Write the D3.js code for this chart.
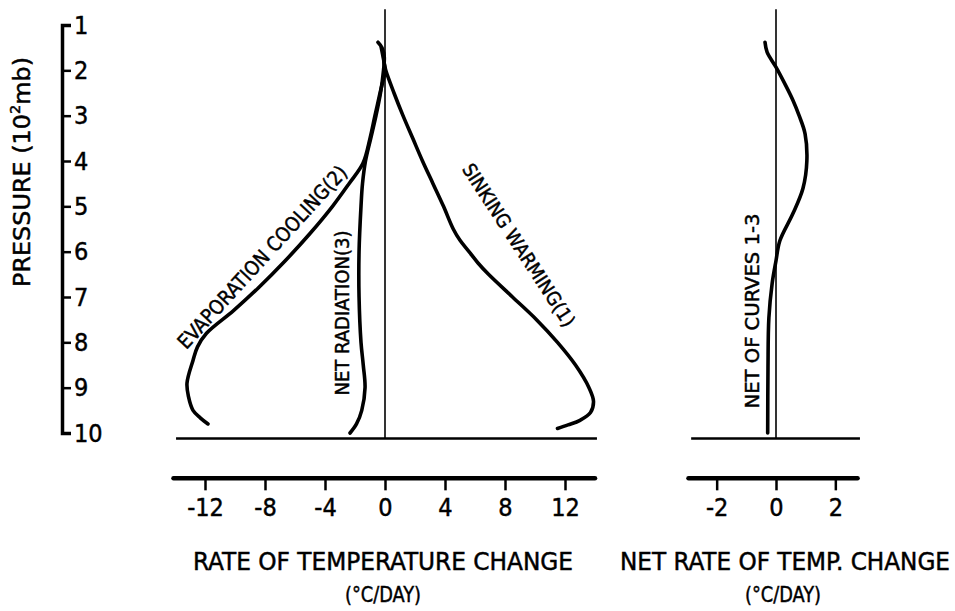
<!DOCTYPE html>
<html>
<head>
<meta charset="utf-8">
<script src="https://cdn.jsdelivr.net/npm/d3@7/dist/d3.min.js"></script>
<style>
  body { margin: 0; background: #fff; }
  svg text { font-family: "Liberation Sans Narrow", "DejaVu Sans Condensed", "DejaVu Sans", sans-serif; fill: #000; stroke: #000; stroke-width: 0.45px; }
</style>
</head>
<body>
<div id="chart"></div>
<script>
var width = 955,
    height = 611,
    fontStack = '"Liberation Sans Narrow", "DejaVu Sans Condensed", "DejaVu Sans", sans-serif'
;

// Pressure levels (10^2 mb) and rates (degC/day)
var pSinking = [1.6, 1.85, 2.0, 2.5, 3.0, 3.5, 4.0, 4.5, 5.0, 5.5, 5.75, 6.0, 6.25, 6.5, 7.0, 7.5, 8.0, 8.5, 9.0, 9.3, 9.55, 9.72, 9.82, 9.9];
var sinkingWarming = [-0.1, -0.05, 0.05, 0.6, 1.2, 1.85, 2.5, 3.2, 3.9, 4.55, 5.0, 5.6, 6.2, 6.9, 8.5, 10.1, 11.5, 12.7, 13.6, 13.9, 13.7, 13.0, 12.2, 11.5];

var pEvap = [1.5, 1.85, 2.0, 2.5, 3.0, 3.5, 4.05, 4.5, 5.0, 5.6, 6.2, 6.8, 7.3, 7.8, 8.1, 8.4, 8.9, 9.2, 9.5, 9.67, 9.8];
var evapCooling = [-0.25, -0.05, 0, -0.33, -0.67, -1.0, -1.47, -2.4, -3.5, -5.0, -6.65, -8.45, -10.1, -11.9, -12.5, -12.8, -13.2, -13.1, -12.8, -12.3, -11.8];

var pRad = [1.38, 1.5, 1.7, 2.0, 2.5, 3.0, 3.5, 4.0, 4.5, 5.0, 6.0, 7.0, 8.0, 8.5, 9.0, 9.5, 9.8, 10.0];
var netRadiation = [-0.47, -0.2, -0.05, -0.1, -0.3, -0.6, -0.95, -1.3, -1.5, -1.6, -1.73, -1.73, -1.6, -1.45, -1.33, -1.55, -1.9, -2.33];

var pNet = [1.38, 1.6, 1.93, 2.3, 2.66, 3.0, 3.4, 4.0, 4.6, 5.16, 5.76, 6.2, 6.7, 7.46, 8.57, 10.0];
var netOfCurves = [-0.37, -0.3, 0, 0.3, 0.57, 0.78, 0.98, 1.04, 0.91, 0.57, 0.13, 0, -0.13, -0.24, -0.27, -0.28];

var pressureTicks = [1, 2, 3, 4, 5, 6, 7, 8, 9, 10],
    rateTicks = [-12, -8, -4, 0, 4, 8, 12],
    netTicks = [-2, 0, 2]
;

function pairs(ps, xs) {
    return ps.map(function(p, i) { return {p: p, v: xs[i]}; });
}

var svg = d3
    .select('#chart')
    .append('svg')
    .attr('width', width)
    .attr('height', height)
    .attr('viewBox', '0 0 ' + width + ' ' + height)
;

// Scales
var y = d3.scaleLinear().domain([1, 10]).range([25, 433]),
    xL = d3.scaleLinear().domain([-14, 14]).range([175, 595]),
    xR = d3.scaleLinear().domain([-3, 3]).range([687, 865])
;

// Pressure axis (bracket shape from the outer ticks)
var yAxis = svg.append('g')
    .attr('transform', 'translate(62,0)')
    .call(d3.axisRight(y)
        .tickValues(pressureTicks)
        .tickSizeInner(9)
        .tickSizeOuter(9)
        .tickPadding(3)
        .tickFormat(d3.format('d')))
;
yAxis.select('.domain').attr('stroke-width', 3.5);
yAxis.selectAll('.tick line').attr('stroke-width', 2.5);
yAxis.selectAll('.tick text')
    .attr('font-size', 25)
    .style('font-family', fontStack)
;

svg.append('text')
    .attr('transform', 'translate(30,172) rotate(-90)')
    .attr('text-anchor', 'middle')
    .attr('font-size', 23)
    .attr('textLength', 230)
    .attr('lengthAdjust', 'spacingAndGlyphs')
    .text('PRESSURE (10')
    .append('tspan').attr('font-size', 14).attr('dy', -10).text('2')
    .select(function() { return this.parentNode; })
    .append('tspan').attr('dy', 10).text('mb)')
;

// Zero lines and base lines
function zeroLine(x) {
    svg.append('line')
        .attr('x1', x(0)).attr('x2', x(0))
        .attr('y1', y(0.65)).attr('y2', y(10.12))
        .attr('stroke', '#000')
        .attr('stroke-width', 1.6)
    ;
}
zeroLine(xL);
zeroLine(xR);

svg.append('line')
    .attr('x1', xL(-13.93)).attr('x2', xL(14.13))
    .attr('y1', y(10.12)).attr('y2', y(10.12))
    .attr('stroke', '#000').attr('stroke-width', 2.6);
svg.append('line')
    .attr('x1', xR(-2.86)).attr('x2', xR(2.83))
    .attr('y1', y(10.12)).attr('y2', y(10.12))
    .attr('stroke', '#000').attr('stroke-width', 2.6);

// Rate axes
function rateAxis(x, ticks, ext) {
    var g = svg.append('g')
        .attr('transform', 'translate(0,' + y(11) + ')')
        .call(d3.axisBottom(x)
            .tickValues(ticks)
            .tickSizeInner(12)
            .tickSizeOuter(0)
            .tickPadding(8)
            .tickFormat(function(d) { return String(d); }))
    ;
    g.select('.domain')
        .attr('d', 'M' + x(ext[0]) + ',0H' + x(ext[1]))
        .attr('stroke-width', 4.5)
        .attr('stroke-linecap', 'round');
    g.selectAll('.tick line').attr('stroke-width', 2.5);
    g.selectAll('.tick text')
        .attr('font-size', 25)
        .style('font-family', fontStack);
}
rateAxis(xL, rateTicks, [-14.1, 14.0]);
rateAxis(xR, netTicks, [-2.95, 2.75]);

// Curves
function drawCurve(x, ps, xs) {
    var line = d3.line()
        .curve(d3.curveCatmullRom.alpha(0.5))
        .x(function(d) { return x(d.v); })
        .y(function(d) { return y(d.p); });
    svg.append('path')
        .datum(pairs(ps, xs))
        .attr('d', line)
        .attr('fill', 'none')
        .attr('stroke', '#000')
        .attr('stroke-width', 3.6)
        .attr('stroke-linecap', 'round')
        .attr('stroke-linejoin', 'round')
    ;
}
drawCurve(xL, pSinking, sinkingWarming);
drawCurve(xL, pEvap, evapCooling);
drawCurve(xL, pRad, netRadiation);
drawCurve(xR, pNet, netOfCurves);

// Curve labels
function label(txt, cx, cy, angle, len, size) {
    svg.append('text')
        .attr('transform', 'translate(' + cx + ',' + cy + ') rotate(' + angle + ')')
        .attr('text-anchor', 'middle')
        .attr('dy', '0.36em')
        .attr('font-size', size)
        .attr('textLength', len)
        .attr('lengthAdjust', 'spacingAndGlyphs')
        .text(txt)
    ;
}
label('EVAPORATION COOLING(2)', 262, 257, -47.5, 240, 20);
label('NET RADIATION(3)', 342, 313, -90, 165, 19);
label('SINKING WARMING(1)', 519, 245, 57, 190, 19);
label('NET OF CURVES 1-3', 752, 311, -90, 195, 20);

// Axis titles
function title(txt, cx, cy, len, size) {
    svg.append('text')
        .attr('x', cx)
        .attr('y', cy)
        .attr('text-anchor', 'middle')
        .attr('font-size', size)
        .attr('textLength', len)
        .attr('lengthAdjust', 'spacingAndGlyphs')
        .text(txt)
    ;
}
title('RATE OF TEMPERATURE CHANGE', xL(0) - 2, 570, 380, 24);
title('(\u00B0C/DAY)', xL(0) - 2, 602, 76, 22);
title('NET RATE OF TEMP. CHANGE', 785, 570, 330, 24);
title('(\u00B0C/DAY)', xR(0) + 7, 602, 76, 22);
</script>
</body>
</html>
